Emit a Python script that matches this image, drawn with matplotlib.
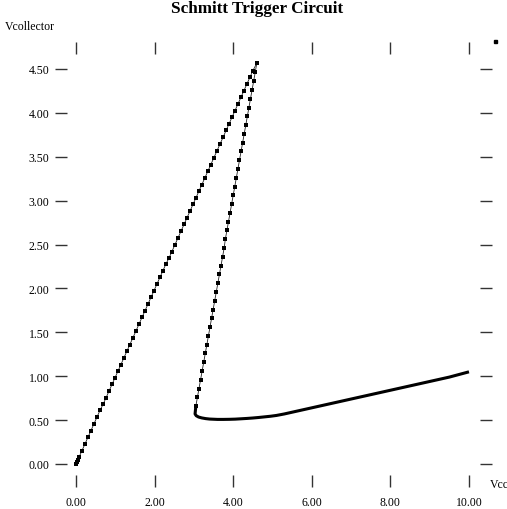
import matplotlib
matplotlib.use("Agg")
import matplotlib.pyplot as plt

plt.rcParams['font.family'] = ['Liberation Serif', 'DejaVu Serif']

# rising branch (Vcollector follows Vcc)
rise_x = [0.00, 0.02, 0.04, 0.08, 0.15, 0.23, 0.31, 0.38, 0.46, 0.53, 0.61, 0.69,
          0.76, 0.84, 0.92, 0.99, 1.07, 1.14, 1.22, 1.30, 1.37, 1.45, 1.53,
          1.60, 1.68, 1.75, 1.83, 1.91, 1.98, 2.06, 2.14, 2.21, 2.29, 2.37,
          2.44, 2.52, 2.59, 2.67, 2.75, 2.82, 2.90, 2.98, 3.05, 3.13, 3.20,
          3.28, 3.36, 3.43, 3.51, 3.59, 3.66, 3.74, 3.82, 3.89, 3.97, 4.04,
          4.12, 4.20, 4.27, 4.35, 4.43, 4.50, 4.60]
rise_y = [0.00, 0.02, 0.04, 0.08, 0.15, 0.23, 0.31, 0.38, 0.46, 0.53, 0.61, 0.68,
          0.75, 0.83, 0.91, 0.98, 1.06, 1.13, 1.21, 1.29, 1.36, 1.44, 1.52,
          1.59, 1.67, 1.74, 1.82, 1.90, 1.97, 2.05, 2.13, 2.20, 2.28, 2.35,
          2.42, 2.50, 2.57, 2.65, 2.73, 2.80, 2.88, 2.96, 3.03, 3.11, 3.18,
          3.26, 3.34, 3.41, 3.49, 3.57, 3.64, 3.72, 3.80, 3.87, 3.95, 4.02,
          4.10, 4.18, 4.25, 4.33, 4.41, 4.48, 4.565]

# falling branch after the trigger point
fall_x = [4.60, 4.56, 4.52, 4.48, 4.44, 4.40, 4.36, 4.32, 4.28, 4.24, 4.20,
          4.16, 4.12, 4.08, 4.04, 4.00, 3.96, 3.92, 3.88, 3.84, 3.80, 3.77,
          3.73, 3.69, 3.65, 3.61, 3.57, 3.53, 3.49, 3.45, 3.41, 3.37, 3.33,
          3.29, 3.25, 3.21, 3.17, 3.13, 3.09, 3.05]
fall_y = [4.565, 4.46, 4.36, 4.26, 4.16, 4.06, 3.96, 3.86, 3.76, 3.66, 3.56,
          3.46, 3.36, 3.26, 3.16, 3.06, 2.96, 2.86, 2.76, 2.66, 2.56, 2.46,
          2.36, 2.26, 2.16, 2.06, 1.96, 1.86, 1.76, 1.66, 1.56, 1.46, 1.36,
          1.26, 1.16, 1.06, 0.96, 0.86, 0.76, 0.66]

# low branch (dense sampling)
low_x = [3.05, 3.03, 3.06, 3.12, 3.20, 3.30, 3.40, 3.50, 3.60, 3.75, 3.90,
         4.05, 4.20, 4.35, 4.50, 4.65, 4.80, 4.95, 5.10, 5.30, 5.50, 5.75,
         6.00, 6.25, 6.50, 6.75, 7.00, 7.25, 7.50, 7.75, 8.00, 8.25, 8.50,
         8.75, 9.00, 9.25, 9.50, 9.75, 10.00]
low_y = [0.66, 0.57, 0.55, 0.535, 0.525, 0.517, 0.512, 0.510, 0.508, 0.508,
         0.509, 0.511, 0.515, 0.519, 0.524, 0.530, 0.537, 0.544, 0.553, 0.570,
         0.590, 0.615, 0.640, 0.665, 0.690, 0.715, 0.740, 0.765, 0.790, 0.815,
         0.840, 0.865, 0.890, 0.915, 0.940, 0.965, 0.990, 1.020, 1.050]

xticks = [0, 2, 4, 6, 8, 10]
yticks = [0.0, 0.5, 1.0, 1.5, 2.0, 2.5, 3.0, 3.5, 4.0, 4.5]

W, H = 507, 510
fig = plt.figure(figsize=(W / 100, H / 100), dpi=100)
# axes box sits on the tick marks, data is inset from it
ax = fig.add_axes([60.5 / W, (H - 481.5) / H, (486 - 60.5) / W, (481.5 - 49) / H])
ax.set_xlim(-0.394, 10.433)
ax.set_ylim(-0.188, 4.739)

ax.plot(rise_x, rise_y, color='#222222', lw=0.6, marker='s', ms=2.5, mew=0,
        mfc='black')
ax.plot(fall_x, fall_y, color='#222222', lw=0.6, marker='s', ms=2.5, mew=0,
        mfc='black')
ax.plot(low_x, low_y, color='black', lw=2.2, solid_capstyle='butt')

for s in ax.spines.values():
    s.set_visible(False)
ax.set_xticks(xticks)
ax.set_xticklabels(['%.2f' % v for v in xticks])
ax.set_yticks(yticks)
ax.set_yticklabels(['%.2f' % v for v in yticks])
ax.tick_params(axis='x', direction='inout', length=8, width=1, top=True,
               labelsize=8.5, pad=7, color='#333333')
ax.tick_params(axis='y', direction='inout', length=8, width=1, right=True,
               labelsize=8.5, pad=4, color='#333333')

fig.text(257 / W, 1 - 9 / H, 'Schmitt Trigger Circuit', ha='center', va='center',
         fontsize=12.3, fontweight='bold')
fig.text(5 / W, 1 - 27 / H, 'Vcollector', ha='left', va='center', fontsize=8.5)
fig.text(490 / W, 1 - 485 / H, 'Vcc', ha='left', va='center', fontsize=8.5)
fig.add_artist(plt.Rectangle((494 / W, 1 - 44 / H), 3 / W, 3 / H, color='black',
                             transform=fig.transFigure))

fig.savefig('out.png', dpi=100)
